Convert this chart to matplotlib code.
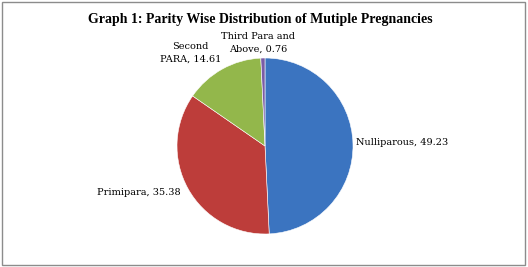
import matplotlib.pyplot as plt
from matplotlib.patches import Rectangle

categories = ['Nulliparous', 'Primipara', 'Second\nPARA', 'Third Para and\nAbove']
values = [49.23, 35.38, 14.61, 0.76]
colors = ['#3b74c0', '#bd3d3a', '#93b74b', '#7a5ca6']

fig = plt.figure(figsize=(5.28, 2.67), dpi=100)
fig.patches.append(Rectangle((0.004, 0.006), 0.99, 0.988, transform=fig.transFigure,
                             fill=False, edgecolor='#8c8c8c', linewidth=1.0))

fig.text(0.493, 0.927, 'Graph 1: Parity Wise Distribution of Mutiple Pregnancies',
         ha='center', va='center', fontsize=10, fontweight='bold', family='Liberation Serif')

# pie axes: centre ~ (265, 146) px, radius ~ 88 px
ax = fig.add_axes([(265 - 88) / 528, (267 - 146 - 88) / 267, 176 / 528, 176 / 267])
wedges, _ = ax.pie(values, colors=colors, startangle=90, counterclock=False,
                   wedgeprops=dict(edgecolor='white', linewidth=0.4))
ax.set_xlim(-1, 1)
ax.set_ylim(-1, 1)
ax.set_aspect('equal')

lbl = dict(fontsize=7, family='DejaVu Serif', va='center', linespacing=1.55)
ax.text(1.03, 0.04, f'{categories[0]}, {values[0]:.2f}', ha='left', **lbl)
ax.text(-0.96, -0.53, f'{categories[1]}, {values[1]:.2f}', ha='right', **lbl)
ax.text(-0.85, 1.06, f'{categories[2]}, {values[2]:.2f}', ha='center', **lbl)
ax.text(-0.08, 1.17, f'{categories[3]}, {values[3]:.2f}', ha='center', **lbl)

plt.savefig('out.png', dpi=100)
